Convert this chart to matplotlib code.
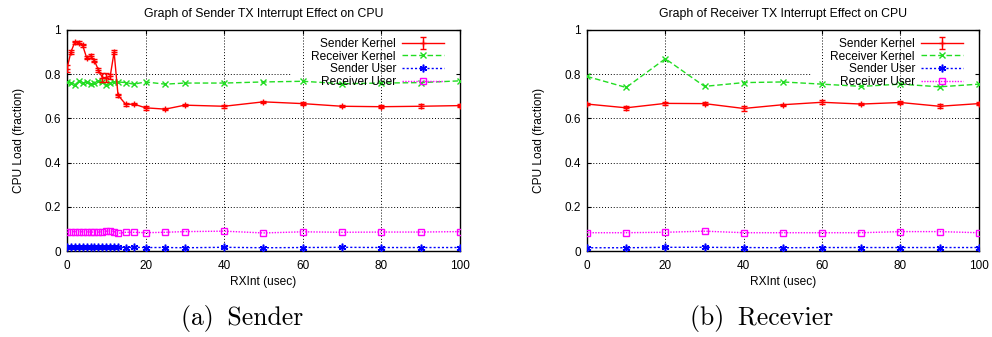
import numpy as np
import matplotlib
matplotlib.use("Agg")
import matplotlib.pyplot as plt

plt.rcParams['font.family'] = ['Liberation Sans', 'DejaVu Sans']

# sender side sweep (fine steps up to 13 usec, then coarse)
x_snd = [0, 1, 2, 3, 4, 5, 6, 7, 8, 9, 10, 11, 12, 13, 15, 17, 20, 25, 30, 40, 50, 60, 70, 80, 90, 100]
snd_kernel_a = [0.825, 0.90, 0.945, 0.943, 0.93, 0.875, 0.883, 0.86, 0.82, 0.785, 0.785, 0.79, 0.90,
                0.705, 0.663, 0.665, 0.648, 0.642, 0.66, 0.655, 0.675, 0.667, 0.655, 0.653, 0.655, 0.658]
snd_kernel_a_err = [0.015, 0.01, 0.007, 0.008, 0.008, 0.008, 0.008, 0.007, 0.008, 0.02, 0.02, 0.01, 0.008,
                    0.006, 0.006, 0.005, 0.01, 0.005, 0.006, 0.006, 0.006, 0.008, 0.005, 0.006, 0.01, 0.005]
rcv_kernel_a = [0.765, 0.76, 0.752, 0.768, 0.76, 0.765, 0.755, 0.76, 0.77, 0.765, 0.752, 0.76, 0.765,
                0.765, 0.762, 0.755, 0.765, 0.755, 0.76, 0.76, 0.765, 0.768, 0.757, 0.76, 0.762, 0.77]
snd_user_a = [0.017, 0.018, 0.018, 0.018, 0.017, 0.017, 0.017, 0.017, 0.017, 0.017, 0.017, 0.017, 0.017,
              0.017, 0.016, 0.017, 0.016, 0.016, 0.015, 0.017, 0.015, 0.016, 0.017, 0.016, 0.016, 0.016]
rcv_user_a = [0.085, 0.087, 0.088, 0.087, 0.087, 0.087, 0.086, 0.086, 0.086, 0.087, 0.09, 0.091, 0.088,
              0.08, 0.085, 0.085, 0.083, 0.085, 0.088, 0.09, 0.082, 0.087, 0.085, 0.086, 0.086, 0.088]

# receiver side sweep
x_rcv = [0, 10, 20, 30, 40, 50, 60, 70, 80, 90, 100]
snd_kernel_b = [0.665, 0.648, 0.668, 0.667, 0.645, 0.662, 0.673, 0.665, 0.672, 0.655, 0.667]
snd_kernel_b_err = [0.006, 0.01, 0.006, 0.006, 0.012, 0.004, 0.01, 0.006, 0.008, 0.008, 0.008]
rcv_kernel_b = [0.79, 0.74, 0.87, 0.745, 0.762, 0.765, 0.755, 0.745, 0.755, 0.743, 0.755]
snd_user_b = [0.015, 0.015, 0.017, 0.017, 0.016, 0.015, 0.016, 0.016, 0.016, 0.016, 0.016]
rcv_user_b = [0.083, 0.083, 0.085, 0.09, 0.083, 0.083, 0.083, 0.083, 0.088, 0.088, 0.083]

labels = ['Sender Kernel', 'Receiver Kernel', 'Sender User', 'Receiver User']
titles = ['Graph of Sender TX Interrupt Effect on CPU', 'Graph of Receiver TX Interrupt Effect on CPU']
captions = ['(a)\u2009 Sender', '(b)\u2009 Recevier']
caption_x = [0.244, 0.768]

RED, GREEN, BLUE, MAGENTA = '#ff0000', '#22dd22', '#0000ff', '#ff00ff'

fig = plt.figure(figsize=(9.92, 3.37), dpi=100)
axes = [fig.add_axes([0.0675, 0.255, 0.396, 0.656]),
        fig.add_axes([0.5917, 0.255, 0.395, 0.656])]

panels = [
    (x_snd, snd_kernel_a, snd_kernel_a_err, rcv_kernel_a, snd_user_a, rcv_user_a),
    (x_rcv, snd_kernel_b, snd_kernel_b_err, rcv_kernel_b, snd_user_b, rcv_user_b),
]

for ax, (x, sk, sk_err, rk, su, ru), title, cap, cx in zip(axes, panels, titles, captions, caption_x):
    h1 = ax.errorbar(x, sk, yerr=sk_err, color=RED, lw=1, marker='+', ms=5, mew=1,
                     capsize=2.5, elinewidth=1, label=labels[0], zorder=4)
    h2, = ax.plot(x, rk, color=GREEN, lw=1, ls=(0, (4, 2)), marker='x', ms=4.5, mew=1,
                  label=labels[1], zorder=3)
    h3, = ax.plot(x, su, color=BLUE, lw=1, ls=(0, (1.5, 1.5)), marker=(6, 2, 0), ms=5.5, mew=1.1,
                  label=labels[2], zorder=3)
    h4, = ax.plot(x, ru, color=MAGENTA, lw=1, ls=(0, (1, 1)), marker='s', ms=5, mew=1,
                  mfc='none', label=labels[3], zorder=3)

    ax.set_xlim(0, 100)
    ax.set_ylim(0, 1)
    ax.set_xticks(np.arange(0, 101, 20))
    ax.set_yticks(np.arange(0, 1.01, 0.2))
    ax.set_yticklabels(['0', '0.2', '0.4', '0.6', '0.8', '1'])
    ax.tick_params(labelsize=8.5, direction='in', length=3, width=0.8, top=True, right=True)
    ax.tick_params(axis='x', pad=6.5)
    ax.tick_params(axis='y', pad=4.5)
    for s in ax.spines.values():
        s.set_linewidth(1.0)

    # dotted grid; the 0.8 line stops short of the key
    ax.grid(axis='x', color='black', ls=(0, (1, 2)), lw=0.7)
    for v in [0.2, 0.4, 0.6]:
        ax.axhline(v, color='black', ls=(0, (1, 2)), lw=0.7, zorder=1)
    ax.axhline(0.8, xmax=0.57, color='black', ls=(0, (1, 2)), lw=0.7, zorder=1)

    ax.set_title(title, fontsize=8.8, pad=9)
    ax.set_xlabel('RXInt (usec)', fontsize=8.6, labelpad=3)
    ax.set_ylabel('CPU Load (fraction)', fontsize=8.6, labelpad=14)

    ax.legend([h1, h2, h3, h4], labels, loc='upper right', bbox_to_anchor=(0.965, 0.975),
              markerfirst=False, frameon=False, fontsize=8.6, handlelength=3.5,
              handletextpad=0.5, labelspacing=0.05, borderpad=0.2, borderaxespad=0)

    fig.text(cx, 0.055, cap, family=['cmr10', 'DejaVu Serif'], fontsize=18.5,
             ha='center', va='center')

fig.savefig('out.png', dpi=100)
